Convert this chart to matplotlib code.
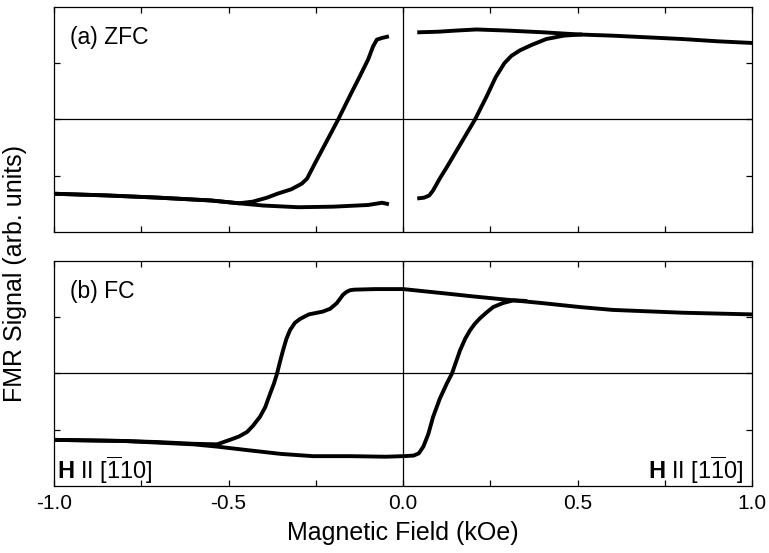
import matplotlib.pyplot as plt

plt.rcParams['font.family'] = ['Liberation Sans', 'DejaVu Sans']
plt.rcParams['mathtext.fontset'] = 'custom'
plt.rcParams['mathtext.rm'] = 'Liberation Sans'
plt.rcParams['mathtext.bf'] = 'Liberation Sans:bold'

# (a) ZFC, negative field side
zfc_neg_x_low = [-1.0, -0.85, -0.7, -0.55, -0.47, -0.4, -0.3, -0.2, -0.1, -0.06, -0.046]
zfc_neg_y_low = [-1.32, -1.35, -1.39, -1.44, -1.49, -1.53, -1.56, -1.55, -1.52, -1.48, -1.50]
zfc_neg_x_up = [-1.0, -0.85, -0.7, -0.55, -0.47, -0.43, -0.39, -0.36, -0.32, -0.29,
                -0.275, -0.25, -0.22, -0.186, -0.15, -0.123, -0.1, -0.086, -0.075,
                -0.06, -0.046]
zfc_neg_y_up = [-1.32, -1.35, -1.39, -1.44, -1.49, -1.46, -1.39, -1.32, -1.24, -1.14,
                -1.05, -0.75, -0.40, 0.0, 0.45, 0.78, 1.07, 1.30, 1.42, 1.45, 1.47]

# (a) ZFC, positive field side
zfc_pos_x_top = [0.046, 0.1, 0.15, 0.21, 0.3, 0.4, 0.507, 0.6, 0.7, 0.8, 0.9, 1.0]
zfc_pos_y_top = [1.55, 1.56, 1.58, 1.60, 1.58, 1.55, 1.51, 1.49, 1.46, 1.43, 1.39, 1.36]
zfc_pos_x_rise = [0.046, 0.06, 0.075, 0.086, 0.105, 0.125, 0.165, 0.206, 0.24, 0.265,
                  0.29, 0.31, 0.335, 0.37, 0.41, 0.46, 0.507]
zfc_pos_y_rise = [-1.40, -1.39, -1.35, -1.26, -1.05, -0.85, -0.43, 0.0, 0.42, 0.75,
                  1.0, 1.13, 1.23, 1.33, 1.43, 1.49, 1.51]

# (b) FC, branch coming down from +1 kOe
fc_down_x = [1.0, 0.8, 0.6, 0.507, 0.4, 0.316, 0.2, 0.125, 0.0, -0.08, -0.14, -0.152,
             -0.162, -0.172, -0.19, -0.209, -0.23, -0.246, -0.27, -0.295, -0.31,
             -0.324, -0.334, -0.344, -0.353, -0.361, -0.37, -0.381, -0.395, -0.41,
             -0.43, -0.447, -0.47, -0.496, -0.533, -0.6, -0.7, -0.8, -0.9, -1.0]
fc_down_y = [1.05, 1.08, 1.13, 1.18, 1.25, 1.30, 1.37, 1.42, 1.50, 1.50, 1.49, 1.48,
             1.45, 1.40, 1.25, 1.15, 1.10, 1.08, 1.05, 0.97, 0.90, 0.77, 0.62, 0.41,
             0.20, 0.0, -0.18, -0.36, -0.60, -0.77, -0.93, -1.04, -1.12, -1.18, -1.26,
             -1.25, -1.22, -1.20, -1.19, -1.18]

# (b) FC, branch going up from -1 kOe
fc_up_x = [-1.0, -0.8, -0.6, -0.533, -0.45, -0.35, -0.258, -0.15, -0.05, 0.0, 0.03,
           0.045, 0.058, 0.072, 0.086, 0.105, 0.125, 0.14, 0.163, 0.178, 0.192, 0.205,
           0.22, 0.24, 0.258, 0.285, 0.316, 0.35]
fc_up_y = [-1.18, -1.20, -1.26, -1.30, -1.36, -1.43, -1.47, -1.47, -1.48, -1.47, -1.46,
           -1.42, -1.30, -1.08, -0.77, -0.45, -0.18, 0.0, 0.41, 0.62, 0.77, 0.88,
           0.98, 1.09, 1.18, 1.25, 1.30, 1.29]

xticks = [-1.0, -0.75, -0.5, -0.25, 0.0, 0.25, 0.5, 0.75, 1.0]
xticklabels = ['-1.0', '', '-0.5', '', '0.0', '', '0.5', '', '1.0']
yticks = [-1, 0, 1]

fig = plt.figure(figsize=(7.69, 5.53), dpi=100)
ax1 = fig.add_axes([0.0702, 0.5805, 0.908, 0.4069])
ax2 = fig.add_axes([0.0702, 0.1212, 0.908, 0.4069])

lw = 2.8
ax1.plot(zfc_neg_x_low, zfc_neg_y_low, color='black', lw=lw)
ax1.plot(zfc_neg_x_up, zfc_neg_y_up, color='black', lw=lw)
ax1.plot(zfc_pos_x_top, zfc_pos_y_top, color='black', lw=lw)
ax1.plot(zfc_pos_x_rise, zfc_pos_y_rise, color='black', lw=lw)

ax2.plot(fc_down_x, fc_down_y, color='black', lw=lw)
ax2.plot(fc_up_x, fc_up_y, color='black', lw=lw)

for ax in (ax1, ax2):
    ax.set_xlim(-1, 1)
    ax.set_ylim(-2, 2)
    ax.axhline(0, color='black', lw=0.9)
    ax.axvline(0, color='black', lw=0.9)
    ax.set_xticks(xticks)
    ax.set_yticks(yticks)
    ax.set_yticklabels([])
    ax.tick_params(direction='in', top=True, right=True, length=4.5, width=0.9,
                   labelsize=15, pad=6)
    for s in ax.spines.values():
        s.set_linewidth(0.9)

ax1.set_xticklabels([])
ax2.set_xticklabels(xticklabels)

ax1.text(-0.955, 1.45, '(a) ZFC', fontsize=16.5, va='center', ha='left')
ax2.text(-0.955, 1.45, '(b) FC', fontsize=16.5, va='center', ha='left')
ax2.text(-0.99, -1.72, r'$\mathbf{H}$ II [$\overline{1}$10]', fontsize=17,
         va='center', ha='left')
ax2.text(0.975, -1.72, r'$\mathbf{H}$ II [1$\overline{1}$0]', fontsize=17,
         va='center', ha='right')

fig.text(0.524, 0.036, 'Magnetic Field (kOe)', fontsize=18, va='center', ha='center')
fig.text(0.02, 0.505, 'FMR Signal (arb. units)', fontsize=18, rotation=90,
         va='center', ha='center')

fig.savefig('out.png', dpi=100)
